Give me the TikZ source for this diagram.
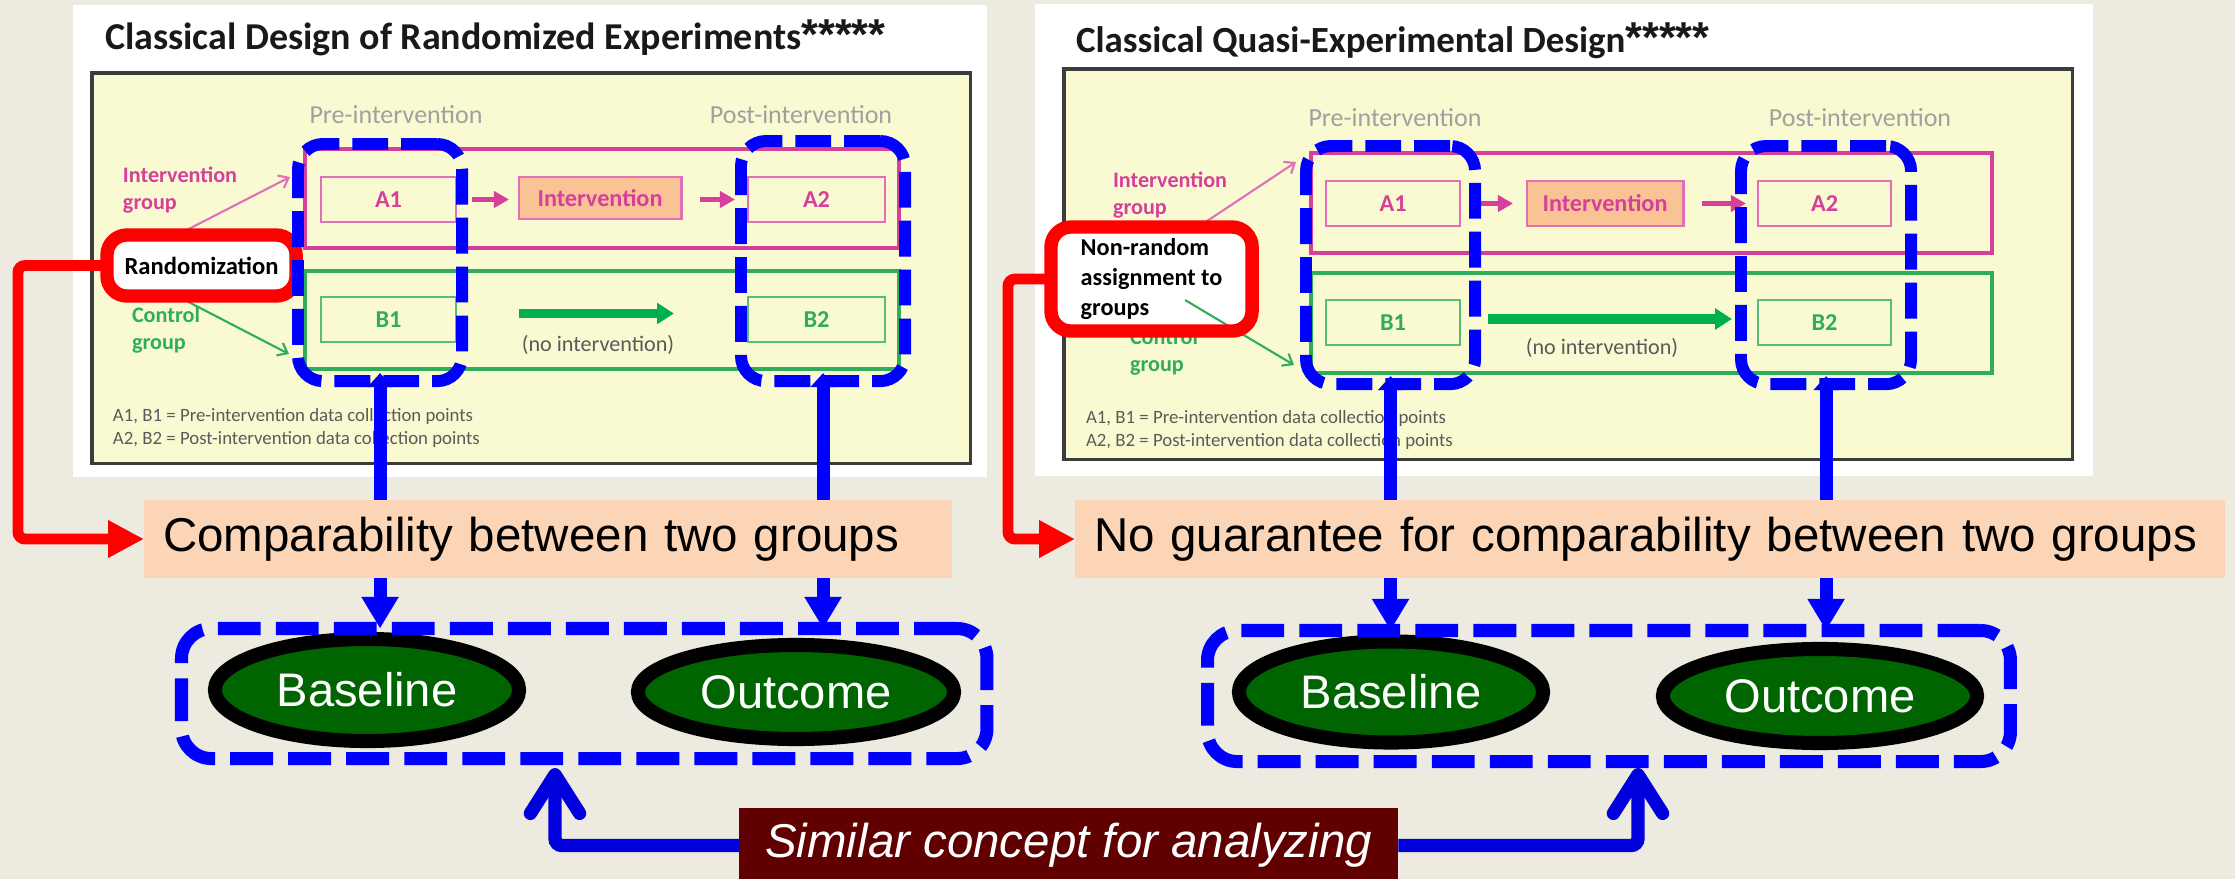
\documentclass[tikz,border=0pt]{standalone}
\usepackage{fontspec}
\setmainfont{Liberation Sans}
\newfontfamily\calib{Carlito}
\usetikzlibrary{arrows.meta,shapes.geometric,calc}

\definecolor{bgc}{RGB}{237,234,224}
\definecolor{yel}{RGB}{250,250,210}
\definecolor{pinkc}{RGB}{214,64,154}
\definecolor{pinkl}{RGB}{226,112,182}
\definecolor{greenc}{RGB}{46,173,90}
\definecolor{greenb}{RGB}{0,176,80}
\definecolor{peach}{RGB}{250,195,150}
\definecolor{peachl}{RGB}{251,213,181}
\definecolor{grayt}{RGB}{160,160,160}
\definecolor{grayf}{RGB}{90,90,90}
\definecolor{darkg}{RGB}{0,100,0}
\definecolor{maroonc}{RGB}{96,0,0}
\definecolor{bluec}{RGB}{0,0,255}
\definecolor{blued}{RGB}{0,0,220}
\definecolor{redc}{RGB}{255,0,0}
\definecolor{framec}{RGB}{60,60,60}
\definecolor{titlec}{RGB}{25,25,25}

\begin{document}
\begin{tikzpicture}[x=0.01cm,y=-0.01cm,
  every node/.style={inner sep=0pt,outer sep=0pt},
  box/.style={anchor=north west,rectangle},
  panel/.style={box,fill=white},
  yelbox/.style={box,fill=yel,draw=framec,line width=0.9pt},
  pinkbig/.style={box,draw=pinkc,line width=1.1pt},
  greenbig/.style={box,draw=greenc,line width=1.1pt},
  smallfont/.style={font=\calib\bfseries\fontsize{6.9pt}{8pt}\selectfont},
  pinksmall/.style={box,draw=pinkl,line width=0.8pt,smallfont,text=pinkc},
  greensmall/.style={box,draw=greenc!80,line width=0.8pt,smallfont,text=greenc},
  pinkarr/.style={draw=pinkc,line width=1.4pt,-{Triangle[length=4.3pt,width=4.6pt]}},
  greenarr/.style={draw=greenb,line width=2.8pt,-{Triangle[length=4.8pt,width=5.8pt]}},
  thinpink/.style={draw=pinkl,line width=0.6pt,-{Straight Barb[length=2.5pt,width=4pt]}},
  thingreen/.style={draw=greenc,line width=0.6pt,-{Straight Barb[length=2.5pt,width=4pt]}},
  titlefont/.style={font=\calib\bfseries\fontsize{10.5pt}{12pt}\selectfont,text=titlec},
  starfont/.style={font=\normalfont\bfseries\fontsize{12.3pt}{14pt}\selectfont},
  prefont/.style={font=\calib\fontsize{7.4pt}{9pt}\selectfont,text=grayt},
  fnfont/.style={font=\calib\fontsize{5.35pt}{6.3pt}\selectfont,text=grayf,align=left,anchor=west},
  grplabel/.style={font=\calib\bfseries\fontsize{6.3pt}{7.6pt}\selectfont,align=left,anchor=west},
  noint/.style={font=\calib\fontsize{6.3pt}{7.5pt}\selectfont,text=grayf},
  bdash/.style={box,draw=bluec,line width=3.4pt,dash pattern=on 10.2pt off 3.7pt,rounded corners=0.25cm},
  redframe/.style={draw=redc,line width=3.8pt,rounded corners=0.2cm},
  labelbox/.style={box,fill=white,font=\calib\bfseries\fontsize{7pt}{8.5pt}\selectfont,align=left},
  compbox/.style={box,fill=peachl,minimum height=0.78cm,align=left,inner xsep=0.19cm,font=\fontsize{13.5pt}{16pt}\selectfont},
  bcon/.style={draw=bluec,line width=3.7pt,{Triangle[length=4pt,width=7pt]}-{Triangle[length=9pt,width=10pt]}},
  redcon/.style={draw=redc,line width=3.1pt,rounded corners=2pt,-{Triangle[length=10.2pt,width=10pt]}},
  gdash/.style={box,draw=bluec,line width=3.7pt,dash pattern=on 12.2pt off 4.3pt,rounded corners=0.3cm},
  ell/.style={ellipse,draw=black,fill=darkg,line width=4pt,text=white,font=\fontsize{13.4pt}{16pt}\selectfont},
  scon/.style={draw=blued,line width=3.8pt,rounded corners=2pt,-{Straight Barb[length=11pt,width=14pt,round]}}
]
\useasboundingbox (0,0) rectangle (2235,879);
\fill[bgc] (0,0) rectangle (2235,879);

% ---------------- left panel ----------------
\node[panel,minimum width=9.13cm,minimum height=4.72cm] (lwhite) at (73,5) {};
\node[yelbox,minimum width=8.78cm,minimum height=3.90cm] (lyel) at (92,73) {};
\node[titlefont,font=\calib\bfseries\fontsize{10.8pt}{12pt}\selectfont,anchor=base west] (ltitle) at (105,50) {Classical Design of Randomized Experiments{\normalfont\bfseries\fontsize{12.3pt}{14pt}\selectfont *****}};
\node[prefont] (lpre) at (396,115) {Pre-intervention};
\node[prefont] (lpost) at (801,115) {Post-intervention};
\node[fnfont] (lfn) at (113,428) {A1, B1 = Pre-intervention data collection points\\A2, B2 = Post-intervention data collection points};
\node[grplabel,text=pinkc] (lig) at (123,190) {Intervention\\group};
\node[grplabel,text=greenc] (lcg) at (132,330) {Control\\group};

\node[pinkbig,minimum width=5.94cm,minimum height=0.99cm] (lpink) at (305,149) {};
\node[greenbig,minimum width=5.94cm,minimum height=0.98cm] (lgreen) at (305,271) {};
\node[pinksmall,minimum width=1.35cm,minimum height=0.45cm] (la1) at (321,177) {A1};
\node[pinksmall,fill=peach,minimum width=1.62cm,minimum height=0.42cm] (lint) at (519,177) {Intervention};
\node[pinksmall,minimum width=1.37cm,minimum height=0.45cm] (la2) at (748,177) {A2};
\node[greensmall,minimum width=1.35cm,minimum height=0.45cm] (lb1) at (321,297) {B1};
\node[greensmall,minimum width=1.37cm,minimum height=0.45cm] (lb2) at (748,297) {B2};
\draw[pinkarr,shorten <=0.16cm,shorten >=0.10cm] (la1.east) -- (la1.east -| lint.west);
\draw[pinkarr,shorten <=0.19cm,shorten >=0.13cm] (lint.east |- la2.west) -- (la2.west);
\draw[greenarr,shorten <=0.63cm,shorten >=0.74cm] ([yshift=0.06cm]lb1.east) -- ([yshift=0.06cm]lb2.west);
\node[noint] (lni) at (598,345) {(no intervention)};

\node[labelbox,minimum width=1.89cm,minimum height=0.61cm] (rand) at (107,235) {Randomization};
\coordinate (lpt) at (290,177);
\coordinate (lgt) at (289,354);
\draw[thinpink] ([xshift=-0.245cm]rand.north) -- (lpt);
\draw[thingreen] ([xshift=-0.245cm]rand.south) -- (lgt);
\draw[redframe] (rand.north west) rectangle (rand.south east);

\node[bdash,minimum width=1.64cm,minimum height=2.37cm] (lr1) at (298,144) {};
\node[bdash,minimum width=1.64cm,minimum height=2.40cm] (lr2) at (741,141) {};

% ---------------- right panel ----------------
\node[panel,minimum width=10.57cm,minimum height=4.72cm] (rwhite) at (1035,4) {};
\node[yelbox,minimum width=10.08cm,minimum height=3.90cm] (ryel) at (1064,69) {};
\node[titlefont,anchor=base west] (rtitle) at (1076,53) {Classical Quasi-Experimental Design{\normalfont\bfseries\fontsize{12.3pt}{14pt}\selectfont *****}};
\node[prefont] (rpre) at (1395,118) {Pre-intervention};
\node[prefont] (rpost) at (1860,118) {Post-intervention};
\node[fnfont] (rfn) at (1086,430) {A1, B1 = Pre-intervention data collection points\\A2, B2 = Post-intervention data collection points};
\node[grplabel,text=pinkc] (rig) at (1113,195) {Intervention\\group};
\node[grplabel,text=greenc] (rcg) at (1130,352) {Control\\group};

\node[pinkbig,minimum width=6.81cm,minimum height=1.00cm] (rpink) at (1311,153) {};
\node[greenbig,minimum width=6.81cm,minimum height=1.00cm] (rgreen) at (1311,273) {};
\node[pinksmall,minimum width=1.34cm,minimum height=0.45cm] (ra1) at (1326,181) {A1};
\node[pinksmall,fill=peach,minimum width=1.56cm,minimum height=0.45cm] (rint) at (1527,181) {Intervention};
\node[pinksmall,minimum width=1.33cm,minimum height=0.45cm] (ra2) at (1758,181) {A2};
\node[greensmall,minimum width=1.34cm,minimum height=0.45cm] (rb1) at (1326,300) {B1};
\node[greensmall,minimum width=1.33cm,minimum height=0.45cm] (rb2) at (1758,300) {B2};
\draw[pinkarr,shorten <=0.13cm,shorten >=0.14cm] (ra1.east) -- (rint.west);
\draw[pinkarr,shorten <=0.19cm,shorten >=0.12cm] (rint.east) -- (ra2.west);
\draw[greenarr,shorten <=0.28cm,shorten >=0.26cm] ([yshift=0.035cm]rb1.east) -- ([yshift=0.035cm]rb2.west);
\node[noint] (rni) at (1602,348) {(no intervention)};

\node[labelbox,font=\calib\bfseries\fontsize{6.9pt}{8.5pt}\selectfont,minimum width=2.01cm,minimum height=1.04cm] (nr) at (1051,227) {Non-random\\assignment to\\groups};
\coordinate (rpt) at (1296,162);
\coordinate (rgt) at (1294,365);
\draw[thinpink] ([xshift=0.465cm]nr.north) -- (rpt);
\draw[thingreen] ([xshift=0.335cm,yshift=-0.21cm]nr.center) -- (rgt);
\draw[redframe] (nr.north west) rectangle (nr.south east);

\node[bdash,minimum width=1.69cm,minimum height=2.38cm] (rr1) at (1306,146) {};
\node[bdash,minimum width=1.70cm,minimum height=2.38cm] (rr2) at (1741,146) {};

% ---------------- lower part ----------------
\node[ell,minimum width=3.04cm,minimum height=1.02cm] (lbase) at (367,690) {Baseline};
\node[ell,minimum width=3.16cm,minimum height=0.94cm] (lout) at (796,692) {Outcome};
\node[ell,minimum width=3.04cm,minimum height=1.01cm] (rbase) at (1391,692) {Baseline};
\node[ell,minimum width=3.14cm,minimum height=0.94cm] (rout) at (1820,696) {Outcome};
\node[gdash,minimum width=8.05cm,minimum height=1.30cm] (lg) at (181.5,628.5) {};
\node[gdash,minimum width=8.025cm,minimum height=1.31cm] (rg) at (1207.5,630.5) {};

\draw[bcon] ([yshift=0.08cm]lr1.south) -- (lr1.south |- lg.north);
\draw[bcon] ([yshift=0.08cm]lr2.south) -- (lr2.south |- lg.north);
\draw[bcon] ([yshift=0.08cm]rr1.south) -- (rr1.south |- rg.north);
\draw[bcon] ([yshift=0.08cm]rr2.south) -- (rr2.south |- rg.north);

\node[compbox,minimum width=8.08cm,text width=7.70cm] (comp) at (144,500) {\mbox{Comparability between two groups}};
\node[compbox,minimum width=11.49cm,text width=11.11cm] (ng) at (1075,500) {\mbox{No guarantee for comparability between two groups}};

\draw[redcon] (rand.west) -| ($(comp.west)+(-126,0)$) -- (comp.west);
\draw[redcon] (nr.west) -| ($(ng.west)+(-67,0)$) -- (ng.west);

\node[box,fill=maroonc,minimum width=6.59cm,minimum height=0.75cm,text=white,font=\itshape\fontsize{13.5pt}{16pt}\selectfont] (sim) at (739,808) {Similar concept for analyzing};
\coordinate (lgin) at (555,768);
\coordinate (rgin) at (1638,768);
\draw[scon] (sim.west) -| (lgin);
\draw[scon] (sim.east) -| (rgin);
\end{tikzpicture}
\end{document}
